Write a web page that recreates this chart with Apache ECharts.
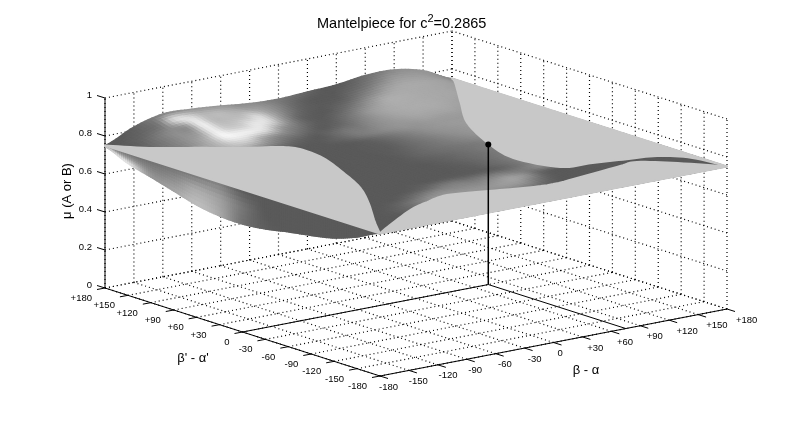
<!DOCTYPE html>
<html><head><meta charset="utf-8">
<style>html,body{margin:0;padding:0;background:#fff}#c{width:804px;height:421px}</style>
<script src="https://cdn.jsdelivr.net/npm/echarts@6/dist/echarts.min.js"></script>
</head><body><div id="c"></div>
<script>
// ---------- axis ticks ----------
const angleTicks = [-180,-150,-120,-90,-60,-30,0,30,60,90,120,150,180];
const angleLabels = ['-180','-150','-120','-90','-60','-30','0','+30','+60','+90','+120','+150','+180'];
const muTicks = [0,0.2,0.4,0.6,0.8,1];
const muLabels = ['0','0.2','0.4','0.6','0.8','1'];
// ---------- marked point (beta-alpha, beta'-alpha', mu) ----------
const markedPoint = [75,0,0.737];
// ---------- surface height, rows along beta'-alpha' (-180..180), columns beta-alpha (-180..180), 30 deg steps ----------
const flat = 0.75;
const surfaceZ = [
[.75,.75,.75,.75,.75,.75,.75,.75,.75,.75,.75,.75,.75],
[.75,.75,.75,.75,.75,.75,.75,.75,.75,.75,.75,.75,.75],
[.75,.75,.75,.75,.75,.75,.75,.75,.75,.75,.75,.75,.75],
[.75,.75,.75,.75,.75,.75,.75,.75,.75,.75,.75,.75,.75],
[.75,.75,.75,.75,.75,.75,.75,.75,.75,.75,.75,.75,.75],
[.75,.75,.75,.75,.75,.75,.75,.75,.75,.75,.75,.75,.75],
[.75,.75,.75,.75,.75,.75,.75,.75,.75,.75,.75,.75,.75],
[.75,.75,.75,.75,.75,.75,.75,.75,.75,.75,.75,.75,.75],
[.75,.754,.756,.756,.755,.754,.754,.755,.755,.756,.756,.754,.75],
[.75,.764,.771,.771,.768,.765,.764,.765,.767,.771,.771,.764,.75],
[.75,.779,.795,.793,.788,.781,.779,.782,.785,.794,.794,.779,.75],
[.75,.798,.825,.822,.813,.802,.798,.803,.809,.823,.823,.799,.75],
[.75,.818,.857,.853,.84,.824,.818,.826,.834,.854,.854,.82,.75]
];
// ---------- surface grey level, rows along beta'-alpha', columns beta-alpha, 15 deg steps ----------
const surfaceGrey = [
[90,90,90,90,90,90,90,90,90,90,90,90,90,90,90,90,90,90,90,90,90,90,90,90,90],
[90,90,90,90,90,90,90,90,90,90,90,90,90,90,90,90,90,90,90,90,90,90,90,90,90],
[90,90,90,90,90,90,90,90,90,90,90,90,90,90,90,90,90,90,90,90,90,90,90,90,90],
[90,90,90,92,100,110,120,130,130,130,130,130,130,120,100,90,90,90,90,90,90,90,90,90,90],
[90,90,90,90,95,110,130,150,150,150,150,150,155,150,120,95,90,90,90,90,90,90,90,90,90],
[90,90,90,90,90,92,105,125,140,140,140,140,150,160,145,105,92,90,90,90,90,90,90,90,90],
[90,90,90,90,90,90,90,95,105,120,125,120,125,130,125,125,135,110,90,90,90,90,90,90,90],
[90,90,90,90,90,90,90,90,92,92,95,95,95,97,102,115,130,130,130,130,130,130,130,130,130],
[90,90,90,90,90,90,90,90,90,90,90,90,92,95,105,115,128,130,130,130,130,130,130,130,130],
[90,90,90,90,90,90,90,90,90,90,90,90,92,97,105,115,125,125,125,125,125,125,125,125,125],
[90,90,90,90,90,90,90,90,90,90,90,90,94,100,107,113,122,125,125,125,125,125,125,125,125],
[90,90,90,90,90,90,90,90,90,90,90,92,97,102,108,115,122,125,125,125,125,125,125,125,125],
[90,90,90,90,90,90,90,90,90,90,90,92,100,107,112,117,122,128,130,130,130,130,130,130,130],
[90,90,90,90,90,90,90,90,90,90,90,92,98,107,115,122,130,138,145,145,145,145,145,145,145],
[90,90,90,90,90,90,90,90,90,90,90,92,95,105,115,125,135,145,150,150,150,150,150,150,150],
[90,90,90,90,90,90,90,90,90,90,90,92,95,105,118,130,142,148,152,155,155,155,155,155,155],
[100,100,100,100,100,95,95,90,90,90,90,92,100,112,125,137,147,152,155,155,155,155,155,155,155],
[130,130,130,130,120,110,100,95,92,90,95,105,120,130,140,148,150,155,155,155,155,155,155,155,155],
[130,140,150,160,170,170,150,130,110,98,92,105,120,125,140,150,158,165,165,165,160,160,160,160,160],
[120,130,140,160,180,205,205,165,140,125,105,92,100,115,135,152,165,170,172,170,165,160,160,160,160],
[110,120,130,150,180,240,240,235,215,155,125,100,92,105,125,150,165,172,172,170,168,165,160,160,160],
[100,110,125,145,160,235,205,205,230,215,150,105,92,92,105,125,150,170,172,170,168,165,160,160,160],
[90,100,120,140,150,235,190,188,195,215,165,125,100,92,92,100,120,140,160,168,168,165,160,150,150],
[90,95,105,125,215,215,185,185,175,165,155,135,110,95,90,90,100,112,130,150,155,155,150,140,150],
[90,90,100,120,130,140,150,150,150,140,140,130,120,110,100,90,90,100,112,125,140,145,150,145,140]
];
// ---------- lower fold under the front-left edge, beta'-alpha' -180..180 in 30 deg steps ----------
const foldZ = [.75,.693,.649,.624,.604,.581,.568,.572,.591,.626,.661,.694,.745];
const foldGreyTop = [90,90,90,90,90,90,92,125,120,115,110,105,120];
const foldGreyMid = [90,90,90,90,90,90,120,160,170,140,130,150,150];
const foldGreyLow = [90,90,90,90,90,95,115,170,190,165,155,235,200];
// ---------- flat plateau outlines at mu = flat, pairs of [beta-alpha, beta'-alpha'] ----------
const plateauFrontLeft = [[-180,-180],[-160,-148],[-124,-94],[-99,-51],[-80,-5],[-64,41],[-61,75],[-70,90],[-98,107],[-123,127],[-156,152],[-180,180]];
const plateauBackRight = [[180,180],[173,167],[136,113],[100,59],[73,-2],[59,-53],[71,-99],[100,-105],[130,-112],[156,-119],[175,-141],[180,-180]];
const plateauFrontRight = [[-180,-180],[-162,-167],[-113,-135],[-86,-123],[-59,-115],[-24,-125],[26,-139],[72,-133],[112,-126],[131,-124],[155,-147],[180,-180]];

// ---------- view ----------
const F=[380,376], VX=[347,-67], VY=[-275,-88], ZH=190;
function proj(X,Y,Z){const u=(X+180)/360,v=(Y+180)/360;return [F[0]+u*VX[0]+v*VY[0],F[1]+u*VX[1]+v*VY[1]-Z*ZH];}
function cr(a,b,c,d,t){return 0.5*((2*b)+(-a+c)*t+(2*a-5*b+4*c-d)*t*t+(-a+3*b-3*c+d)*t*t*t);}
function curve1(arr,s){const n=arr.length-1;let i=Math.min(Math.floor(s),n-1);const t=s-i;
  return cr(arr[Math.max(i-1,0)],arr[i],arr[i+1],arr[Math.min(i+2,n)],t);}
function bicubic(G,s,t){const n=G.length-1;let j=Math.min(Math.floor(t),n-1);const f=t-j;
  const r=[Math.max(j-1,0),j,j+1,Math.min(j+2,n)].map(k=>curve1(G[k],s));
  return cr(r[0],r[1],r[2],r[3],f);}
function grey(g){g=Math.round(Math.max(90,Math.min(250,g)));return 'rgb('+g+','+g+','+g+')';}
function quad(api,pts,c){return {type:'polygon',shape:{points:pts.map(p=>api.coord(p))},style:{fill:c,stroke:c,lineWidth:1.4,lineJoin:'round'},silent:true};}

// surface sheet cells, back to front
const SUB=4, NG=surfaceGrey.length-1, M=NG*SUB;
const cells=[];
for(let j=M-1;j>=0;j--)for(let i=M-1;i>=0;i--)cells.push([i,j]);
function sheetPoint(i,j){const X=-180+360*i/M,Y=-180+360*j/M;return proj(X,Y,bicubic(surfaceZ,12*i/M,12*j/M));}
// fold cells
const FS=12,FT=8,foldCells=[];
for(let j=FS*12-1;j>=0;j--)for(let k=0;k<FT;k++)foldCells.push([j,k]);
function foldPoint(j,k){const s=j/FS,t=k/FT,Y=-180+30*s;return proj(-180,Y,flat+t*(curve1(foldZ,s)-flat));}
function foldGrey(s,t){const a=curve1(foldGreyTop,s),b=curve1(foldGreyMid,s),c=curve1(foldGreyLow,s);
  return t<0.5?a*(1-2*t)+b*2*t:b*(2-2*t)+c*(2*t-1);}
// plateau outlines
function outline(pairs){const n=pairs.length-1,out=[],xs=pairs.map(p=>p[0]),ys=pairs.map(p=>p[1]);
  for(let k=0;k<=n*8;k++){const s=k/8;out.push(proj(curve1(xs,s),curve1(ys,s),flat));}
  return out;}

// box lines
const dotted=[],solid=[],ticks=[];
angleTicks.forEach(a=>{
  dotted.push([proj(a,-180,0),proj(a,180,0)]);
  dotted.push([proj(-180,a,0),proj(180,a,0)]);
  dotted.push([proj(a,180,0),proj(a,180,1)]);
  dotted.push([proj(180,a,0),proj(180,a,1)]);
  const p=proj(-180,a,0),q=proj(a,-180,0);
  ticks.push([p,[p[0]-8,p[1]+1.5]]);
  ticks.push([q,[q[0]+8,q[1]+2.5]]);
});
muTicks.forEach(z=>{
  dotted.push([proj(-180,180,z),proj(180,180,z)]);
  dotted.push([proj(180,-180,z),proj(180,180,z)]);
  const p=proj(-180,180,z);
  ticks.push([p,[p[0]-8,p[1]-2.5]]);
});
solid.push([proj(-180,-180,0),proj(-180,180,0)]);
solid.push([proj(-180,-180,0),proj(180,-180,0)]);
solid.push([proj(-180,180,0),proj(-180,180,1)]);
solid.push([proj(-180,0,0),proj(markedPoint[0],0,0)]);
solid.push([proj(markedPoint[0],-180,0),proj(markedPoint[0],0,0)]);

// labels
const FONT='9.5px "Liberation Sans"';
const texts=[];
angleTicks.forEach((a,k)=>{
  const p=proj(-180,a,0);
  texts.push({t:angleLabels[k],x:p[0]-13,y:p[1]+10.5,align:'right',font:FONT});
  const q=proj(a,-180,0),f=(a+180)/360;
  texts.push({t:angleLabels[k],x:q[0]-1+10*f,y:q[1]+11,align:'left',font:FONT});
});
muTicks.forEach((z,k)=>{const p=proj(-180,180,z);texts.push({t:muLabels[k],x:92,y:p[1]-3,align:'right',font:FONT});});
texts.push({t:"\u03B2' - \u03B1'",x:193,y:358,align:'center',font:'13px "Liberation Sans"'});
texts.push({t:"\u03B2 - \u03B1",x:586,y:370,align:'center',font:'13px "Liberation Sans"'});
texts.push({t:"\u03BC (A or B)",x:67,y:191,align:'center',font:'13px "Liberation Sans"',rot:Math.PI/2});

function idx(n){const a=[];for(let i=0;i<n;i++)a.push([i]);return a;}
function layer(n,render,z){return {type:'custom',coordinateSystem:'cartesian2d',data:idx(n),renderItem:render,silent:true,clip:false,animation:false,progressive:0,z:z,encode:{x:0}};}
const chart=echarts.init(document.getElementById('c'),null,{renderer:'canvas'});
const lineEl=(api,s,style)=>{const a=api.coord(s[0]),b=api.coord(s[1]);return {type:'line',shape:{x1:a[0],y1:a[1],x2:b[0],y2:b[1]},style:style,silent:true};};
chart.setOption({
  backgroundColor:'#fff',animation:false,
  title:{text:'{a|Mantelpiece for c}{s|2}{a|=0.2865}',left:312,top:8,textStyle:{fontWeight:'normal',rich:{a:{fontFamily:'Liberation Sans',fontWeight:'normal',fontSize:14.5,color:'#000',verticalAlign:'bottom',lineHeight:18},s:{fontFamily:'Liberation Sans',fontWeight:'normal',fontSize:11,color:'#000',verticalAlign:'top',lineHeight:18}}}},
  grid:{left:0,top:0,width:804,height:421,containLabel:false},
  xAxis:{type:'value',min:0,max:804,show:false},
  yAxis:{type:'value',min:0,max:421,inverse:true,show:false},
  series:[
    layer(dotted.length,(p,api)=>lineEl(api,dotted[p.dataIndex],{stroke:'#000',lineWidth:1.2,lineDash:[1,3]}),1),
    layer(solid.length,(p,api)=>lineEl(api,solid[p.dataIndex],{stroke:'#000',lineWidth:1}),2),
    layer(ticks.length,(p,api)=>lineEl(api,ticks[p.dataIndex],{stroke:'#000',lineWidth:1}),2),
    layer(cells.length,(p,api)=>{const [i,j]=cells[p.dataIndex];
      return quad(api,[sheetPoint(i,j),sheetPoint(i+1,j),sheetPoint(i+1,j+1),sheetPoint(i,j+1)],grey(bicubic(surfaceGrey,(i+.5)/SUB,(j+.5)/SUB)));},3),
    layer(foldCells.length,(p,api)=>{const [j,k]=foldCells[p.dataIndex];
      return quad(api,[foldPoint(j,k),foldPoint(j+1,k),foldPoint(j+1,k+1),foldPoint(j,k+1)],grey(foldGrey((j+.5)/FS,(k+.5)/FT)));},4),
    layer(3,(p,api)=>{const o=outline([plateauFrontLeft,plateauBackRight,plateauFrontRight][p.dataIndex]);
      return {type:'polygon',shape:{points:o.map(q=>api.coord(q))},style:{fill:'#c8c8c8',stroke:'#c8c8c8',lineWidth:2,lineJoin:'round'},silent:true};},5),
    layer(1,(p,api)=>{const m=markedPoint,a=api.coord(proj(m[0],m[1],0)),b=api.coord(proj(m[0],m[1],m[2]));
      return {type:'group',silent:true,children:[
        {type:'line',shape:{x1:a[0],y1:a[1],x2:b[0],y2:b[1]},style:{stroke:'#000',lineWidth:1.5}},
        {type:'circle',shape:{cx:b[0],cy:b[1],r:3},style:{fill:'#000'}}]};},6),
    layer(texts.length,(p,api)=>{const t=texts[p.dataIndex],c=api.coord([t.x,t.y]);
      return {type:'text',x:c[0],y:c[1],rotation:t.rot||0,silent:true,style:{text:t.t,font:t.font,fill:'#000',align:t.align,verticalAlign:'middle'}};},7)
  ]
});
</script></body></html>
